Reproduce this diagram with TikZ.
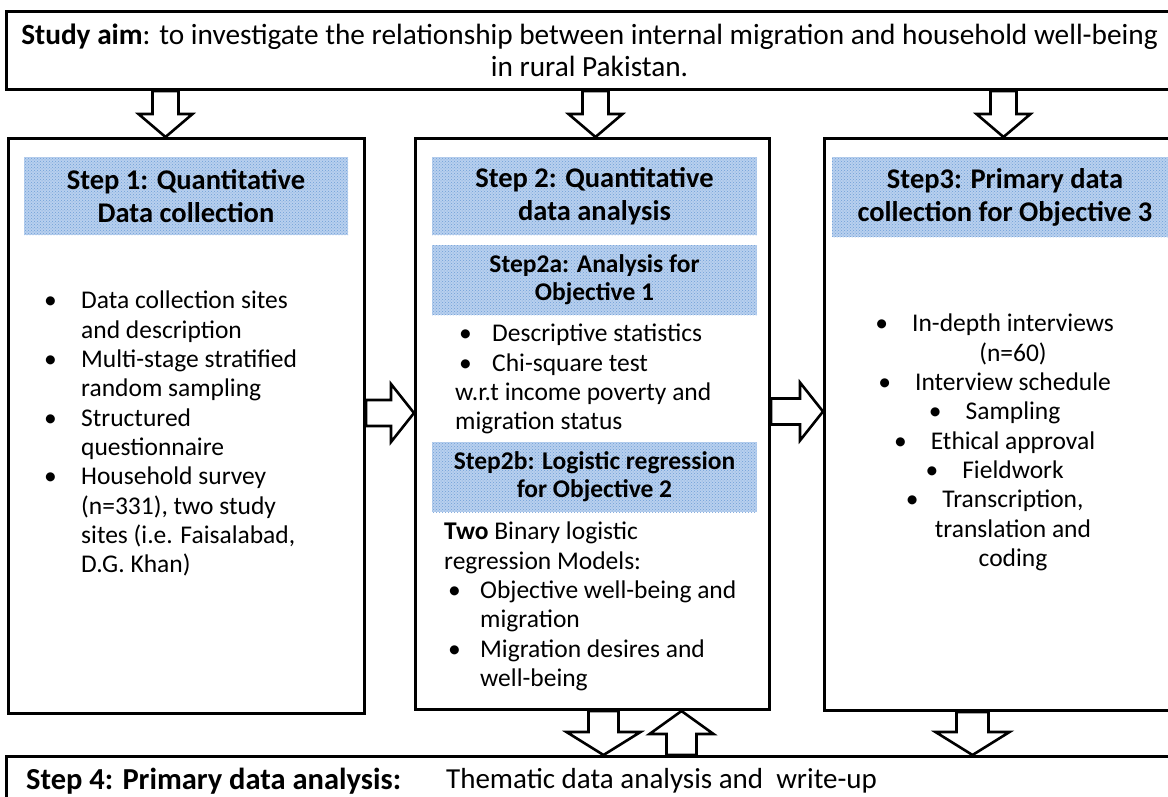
\documentclass[tikz,border=0pt]{standalone}
\usepackage{fontspec}
\setmainfont{Carlito}
\usetikzlibrary{calc,patterns}

\definecolor{hdrblue}{RGB}{184,208,238}
\definecolor{hdrdots}{RGB}{112,158,216}

% bullet with a fixed gap, and the indent of a wrapped line
\newcommand{\bul}[1][33pt]{\makebox[#1][l]{\textbullet}}
\newcommand{\cbul}{\llap{\textbullet\hspace{24pt}}}

\tikzset{
  panel/.style={draw, line width=3pt, anchor=north west, inner sep=0pt},
  header/.style={preaction={fill=hdrblue}, pattern=crosshatch dots, pattern color=hdrdots,
    align=center, inner sep=0pt, font=\bfseries\fontsize{28.5}{33}\selectfont},
  subheader/.style={header, font=\bfseries\fontsize{25.5}{28}\selectfont},
  body/.style={align=left, inner sep=0pt, anchor=north west, font=\fontsize{25.5}{29.3}\selectfont},
  shaft half/.store in=\shafthalf, shaft half=13pt,
  head half/.store in=\headhalf, head half=27pt,
  hollow/.style={draw, fill=white, line width=2.6pt, line join=miter,
    to path={let \p1=(\tikztostart), \p2=(\tikztotarget), \n1={atan2(\y2-\y1,\x2-\x1)} in
      ($(\p1)+(\n1+90:\shafthalf)$)
      -- ($(\p2)+(\n1+180:23pt)+(\n1+90:\shafthalf)$)
      -- ($(\p2)+(\n1+180:23pt)+(\n1+90:\headhalf)$)
      -- (\p2)
      -- ($(\p2)+(\n1+180:23pt)+(\n1-90:\headhalf)$)
      -- ($(\p2)+(\n1+180:23pt)+(\n1-90:\shafthalf)$)
      -- ($(\p1)+(\n1-90:\shafthalf)$) -- cycle}}
}

\begin{document}
\begin{tikzpicture}[x=1pt, y=-1pt]
  \clip (0,0) rectangle (1168,796);

  % outer boxes
  \node[panel, minimum width=1166pt, minimum height=78pt, align=center,
    font=\fontsize{29.3}{32}\selectfont] (aim) at (5,10)
    {\textbf{Study aim}: to investigate the relationship between internal migration and household well-being\\in rural Pakistan.};
  \node[panel, minimum width=356pt, minimum height=575pt] (col1) at (7,137) {};
  \node[panel, minimum width=354pt, minimum height=571pt] (col2) at (414,137) {};
  \node[panel, minimum width=380pt, minimum height=572pt] (col3) at (823,137) {};
  \node[panel, minimum width=1190pt, minimum height=80pt] (step4) at (5,755) {};

  % shaded headings
  \node[header, minimum width=324pt, minimum height=78pt] (hdr1) at (186,196) {Step 1: Quantitative\\Data collection};
  \node[header, minimum width=325pt, minimum height=78pt] (hdr2) at (594.5,196) {Step 2: Quantitative\\data analysis};
  \node[subheader, minimum width=325pt, minimum height=70pt] (hdr2a) at (594.5,280) {Step2a: Analysis for\\Objective 1};
  \node[subheader, minimum width=325pt, minimum height=70pt] (hdr2b) at (594.5,477) {Step2b: Logistic regression\\for Objective 2};
  \node[header, minimum width=346pt, minimum height=80pt] (hdr3) at (1005,197) {Step3: Primary data\\collection for Objective 3};

  % box contents
  \node[body] (list1) at (44,291) {\bul[37pt]Data collection sites\\\hspace*{37pt}and description\\
    \bul[37pt]Multi-stage stratified\\\hspace*{37pt}random sampling\\
    \bul[37pt]Structured\\\hspace*{37pt}questionnaire\\
    \bul[37pt]Household survey\\\hspace*{37pt}(n=331), two study\\
    \hspace*{37pt}sites (i.e. Faisalabad,\\\hspace*{37pt}D.G. Khan)};
  \node[body] (list2a) at (459,324) {\bul Descriptive statistics\\\bul Chi-square test\\
    \hspace*{-4pt}w.r.t income poverty and\\\hspace*{-4pt}migration status};
  \node[body] (list2b) at (444,522) {\textbf{Two} Binary logistic\\regression Models:\\
    \hspace*{4pt}\bul[32pt]Objective well-being and\\\hspace*{36pt}migration\\
    \hspace*{4pt}\bul[32pt]Migration desires and\\\hspace*{36pt}well-being};
  \node[body, anchor=north, align=center] (list3) at (1013,314) {\cbul In-depth interviews\\(n=60)\\
    \cbul Interview schedule\\\cbul Sampling\\\cbul Ethical approval\\\cbul Fieldwork\\
    \cbul Transcription,\\translation and\\coding};
  \node[inner sep=0pt, anchor=west, font=\bfseries\fontsize{30.5}{32}\selectfont] (s4label) at (26,781) {Step 4: Primary data analysis:};
  \node[inner sep=0pt, anchor=west, font=\fontsize{29}{32}\selectfont] (s4text) at (446,781) {Thematic data analysis and\ \ write-up};

  % block arrows
  \draw[hollow] ([xshift=-21pt]col1.north |- aim.south) to ([xshift=-21pt]col1.north);
  \draw[hollow] ([xshift=3pt]col2.north |- aim.south) to ([xshift=3pt]col2.north);
  \draw[hollow] ([xshift=-11pt]col3.north |- aim.south) to ([xshift=-11pt]col3.north);
  \draw[hollow, head half=29pt] ([yshift=13pt]col1.east) to ([yshift=13pt]col1.east -| col2.west);
  \draw[hollow, head half=29pt] ([yshift=12.5pt]col2.east) to ([yshift=12.5pt]col2.east -| col3.west);
  \draw[hollow, shaft half=15pt, head half=37pt] ([xshift=11pt]col2.south) to ([xshift=11pt]col2.south |- step4.north);
  \draw[hollow, shaft half=15pt, head half=32pt] ([xshift=89pt]col2.south |- step4.north) to ([xshift=89pt]col2.south);
  \draw[hollow, shaft half=16pt, head half=37pt] ([xshift=-42pt]col3.south) to ([xshift=-42pt]col3.south |- step4.north);
\end{tikzpicture}
\end{document}
